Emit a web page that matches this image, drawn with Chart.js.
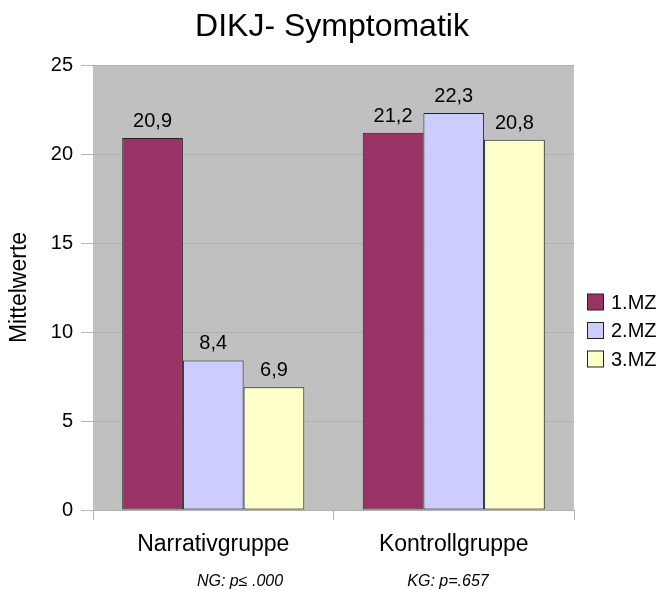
<!DOCTYPE html>
<html>
<head>
<meta charset="utf-8">
<script src="https://cdn.jsdelivr.net/npm/chart.js@4.4.0/dist/chart.umd.min.js"></script>
<style>
  html, body { margin: 0; padding: 0; background: #fff; }
  #wrap { width: 662px; height: 590px; }
</style>
</head>
<body>
<div id="wrap"><canvas id="myChart" width="662" height="590"></canvas></div>
<script>
// ---------------- data
const groups = ["Narrativgruppe", "Kontrollgruppe"];
const seriesNames = ["1.MZ", "2.MZ", "3.MZ"];
const mz1 = [20.9, 21.2];
const mz2 = [8.4, 22.3];
const mz3 = [6.9, 20.8];
const yTicks = [0, 5, 10, 15, 20, 25];
const chartTitle = "DIKJ- Symptomatik";
const footnotes = ["NG: p\u2264 .000", "KG: p=.657"];

const colors = ["#993366", "#ccccff", "#ffffcc"];
const fontName = "'Liberation Sans', Arial, sans-serif";

// --------------- plugins
const plotBg = {
  id: "plotBg",
  beforeDraw(chart) {
    const a = chart.chartArea;
    const ctx = chart.ctx;
    ctx.save();
    ctx.fillStyle = "#c0c0c0";
    ctx.fillRect(a.left, a.top, a.right - a.left, a.bottom - a.top);
    ctx.restore();
  }
};

const valueLabels = {
  id: "valueLabels",
  afterDatasetsDraw(chart) {
    const ctx = chart.ctx;
    ctx.save();
    ctx.font = "20px " + fontName;
    ctx.fillStyle = "#000";
    ctx.textAlign = "center";
    ctx.textBaseline = "alphabetic";
    chart.data.datasets.forEach((ds, i) => {
      chart.getDatasetMeta(i).data.forEach((bar, j) => {
        let txt = ds.data[j].toFixed(1).replace(".", ",");
        ctx.fillText(txt, bar.x, bar.y - 11);
      });
    });
    ctx.restore();
  }
};

const extras = {
  id: "extras",
  afterDraw(chart) {
    const ctx = chart.ctx;
    ctx.save();
    // title, centred on the whole picture
    ctx.font = "32px " + fontName;
    ctx.fillStyle = "#000";
    ctx.textAlign = "center";
    ctx.textBaseline = "alphabetic";
    ctx.fillText(chartTitle, 332, 36);
    // legend
    ctx.font = "20px " + fontName;
    ctx.textBaseline = "middle";
    ctx.textAlign = "left";
    chart.data.datasets.forEach((ds, i) => {
      let cy = 302 + i * 28.5;
      ctx.fillStyle = ds.backgroundColor;
      ctx.fillRect(587.5, cy - 8, 16, 16);
      ctx.strokeStyle = "#222";
      ctx.lineWidth = 1;
      ctx.strokeRect(587.5, cy - 8, 16, 16);
      ctx.fillStyle = "#000";
      ctx.fillText(ds.label, 611, cy + 1);
    });
    // footnotes under the categories
    ctx.font = "italic 16px " + fontName;
    ctx.textAlign = "center";
    ctx.textBaseline = "alphabetic";
    ctx.fillText(footnotes[0], 240, 586);
    ctx.fillText(footnotes[1], 448, 586);
    ctx.restore();
  }
};

// --------------- chart
const ctx = document.getElementById("myChart");
new Chart(ctx, {
  type: "bar",
  data: {
    labels: groups,
    datasets: [
      { label: seriesNames[0], data: mz1, backgroundColor: colors[0] },
      { label: seriesNames[1], data: mz2, backgroundColor: colors[1] },
      { label: seriesNames[2], data: mz3, backgroundColor: colors[2] }
    ].map((d) => Object.assign(d, {
      borderColor: "#222",
      borderWidth: 1,
      borderSkipped: false,
      categoryPercentage: 0.757,
      barPercentage: 1
    }))
  },
  options: {
    responsive: false,
    animation: false,
    layout: { padding: { left: 0, right: 88, top: 65, bottom: 0 } },
    plugins: {
      legend: { display: false },
      tooltip: { enabled: false },
      title: { display: false }
    },
    scales: {
      x: {
        grid: {
          display: true,
          drawOnChartArea: false,
          offset: true,
          tickLength: 10,
          color: "#b0b0b0"
        },
        border: { display: false },
        ticks: {
          color: "#000",
          font: { family: fontName, size: 23 },
          padding: 11,
          maxRotation: 0
        },
        afterFit(scale) { scale.height = 80; }
      },
      y: {
        min: 0,
        max: 25,
        afterBuildTicks(scale) { scale.ticks = yTicks.map((v) => ({ value: v })); },
        grid: {
          color: "#b0b0b0",
          tickLength: 12,
          tickColor: "#b8b8b8"
        },
        border: { display: false },
        ticks: {
          color: "#000",
          font: { family: fontName, size: 20 },
          padding: 8
        },
        title: {
          display: true,
          text: "Mittelwerte",
          color: "#000",
          font: { family: fontName, size: 23 },
          padding: { top: 6, bottom: 0 }
        },
        afterFit(scale) { scale.width = 93; }
      }
    }
  },
  plugins: [plotBg, valueLabels, extras]
});
</script>
</body>
</html>
